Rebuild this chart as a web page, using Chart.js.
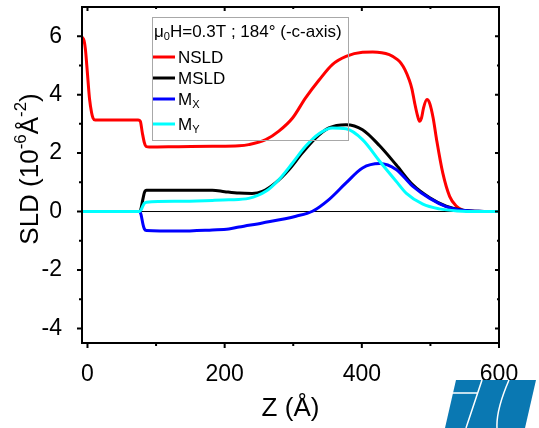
<!DOCTYPE html>
<html>
<head>
<meta charset="utf-8">
<script src="https://cdn.jsdelivr.net/npm/chart.js@4.4.1/dist/chart.umd.min.js"></script>
<style>
  html, body { margin: 0; padding: 0; background: #fff; }
  #wrap { width: 539px; height: 428px; position: relative; }
</style>
</head>
<body>
<div id="wrap"><canvas id="sld"></canvas></div>
<script>
// depth profile, Z in Angstrom, SLD in 1e-6 A^-2
const nsldZ = [-8, -5, -3, -1, 1, 3, 6, 8, 11, 40, 74, 77, 80, 83, 86, 90, 133, 182, 221, 235, 260, 279, 299, 318, 338, 357, 377, 401, 416, 440, 452, 457, 463, 469, 473, 477, 481, 484, 487, 490, 495, 499, 504, 509, 518, 528, 538, 548, 560, 580, 600];
const nsld  = [5.97, 5.85, 5.55, 5.0, 4.4, 3.85, 3.38, 3.2, 3.13, 3.13, 3.13, 3.09, 2.69, 2.35, 2.22, 2.21, 2.22, 2.23, 2.25, 2.29, 2.46, 2.75, 3.2, 3.89, 4.51, 5.03, 5.31, 5.45, 5.46, 5.37, 5.2, 5.08, 4.85, 4.51, 4.2, 3.72, 3.3, 3.09, 3.2, 3.55, 3.83, 3.7, 3.2, 2.46, 1.32, 0.52, 0.18, 0.04, 0.01, 0, 0];

const msldZ = [-8, 76, 78, 81, 83, 86, 133, 182, 200, 221, 240, 255, 274, 294, 313, 333, 352, 377, 401, 426, 450, 474, 499, 523, 547, 570, 600];
const msld  = [0, 0, 0.1, 0.45, 0.65, 0.73, 0.73, 0.73, 0.68, 0.63, 0.62, 0.69, 0.98, 1.44, 2.0, 2.52, 2.86, 2.97, 2.8, 2.25, 1.6, 0.92, 0.47, 0.18, 0.04, 0.01, 0];

const mxZ = [-8, 76, 78, 81, 83, 86, 133, 182, 206, 221, 255, 304, 328, 352, 377, 401, 426, 450, 474, 499, 523, 547, 570, 600];
const mx  = [0, 0, -0.1, -0.45, -0.6, -0.65, -0.67, -0.63, -0.6, -0.53, -0.39, -0.16, 0.01, 0.41, 0.98, 1.49, 1.64, 1.44, 0.87, 0.45, 0.17, 0.04, 0.01, 0];

const myZ = [-8, 76, 78, 81, 83, 86, 133, 182, 206, 235, 260, 279, 299, 318, 338, 357, 377, 401, 426, 452, 465, 489, 513, 540, 570, 600];
const my  = [0, 0, 0.05, 0.2, 0.28, 0.32, 0.35, 0.38, 0.4, 0.45, 0.69, 1.09, 1.66, 2.23, 2.67, 2.86, 2.83, 2.46, 1.72, 0.98, 0.62, 0.25, 0.09, 0.02, 0, 0];

const zTicks = [0, 200, 400, 600];
const zMinor = [100, 300, 500];
const sldTicks = [-4, -2, 0, 2, 4, 6];
const sldMinor = [-3, -1, 1, 3, 5];

const legendTitle = ["\u03BC", "0", "H=0.3T ; 184\u00B0 (-c-axis)"];
const seriesNames = [["NSLD", ""], ["MSLD", ""], ["M", "X"], ["M", "Y"]];
const seriesColors = ["#ff0000", "#000000", "#0000ff", "#00ffff"];

const FONT = "'Liberation Sans', Arial, sans-serif";

function pts(z, v) {
  return z.map((x, i) => ({ x: x, y: v[i] }));
}

// text runs: [string, "n" | "sub" | "sup"]
function drawRuns(ctx, runs, x, y, size) {
  let cx = x;
  runs.forEach(([t, kind]) => {
    let s = size, dy = 0;
    if (kind === "sub") { s = size * 0.65; dy = size * 0.3; }
    if (kind === "sup") { s = size * 0.65; dy = -size * 0.38; }
    ctx.font = s + "px " + FONT;
    ctx.fillText(t, cx, y + dy);
    cx += ctx.measureText(t).width;
  });
  return cx - x;
}
function runsWidth(ctx, runs, size) {
  let w = 0;
  runs.forEach(([t, kind]) => {
    const s = kind === "n" ? size : size * 0.65;
    ctx.font = s + "px " + FONT;
    w += ctx.measureText(t).width;
  });
  return w;
}

const decor = {
  id: "decor",
  beforeDatasetsDraw(chart) {
    const { ctx, chartArea: a, scales: { y } } = chart;
    const y0 = y.getPixelForValue(0);
    ctx.save();
    ctx.strokeStyle = "#000";
    ctx.lineWidth = 1;
    ctx.beginPath();
    ctx.moveTo(a.left, y0);
    ctx.lineTo(a.right, y0);
    ctx.stroke();
    ctx.restore();
  },
  afterDraw(chart) {
    const { ctx, chartArea: a, scales: { x, y } } = chart;
    ctx.save();

    // frame
    ctx.strokeStyle = "#000";
    ctx.lineWidth = 2;
    ctx.strokeRect(a.left, a.top, a.right - a.left, a.bottom - a.top);

    // ticks: outward on left/bottom, inward on top/right
    ctx.beginPath();
    const tx = (v, len) => {
      const p = x.getPixelForValue(v);
      ctx.moveTo(p, a.bottom); ctx.lineTo(p, a.bottom + len);
      ctx.moveTo(p, a.top); ctx.lineTo(p, a.top + len - 1);
    };
    const ty = (v, len) => {
      const p = y.getPixelForValue(v);
      ctx.moveTo(a.left, p); ctx.lineTo(a.left - len, p);
      ctx.moveTo(a.right, p); ctx.lineTo(a.right - len + 1, p);
    };
    zTicks.forEach(v => tx(v, 5));
    zMinor.forEach(v => tx(v, 3));
    sldTicks.forEach(v => ty(v, 5));
    sldMinor.forEach(v => ty(v, 3));
    ctx.stroke();

    // axis titles
    ctx.fillStyle = "#000";
    ctx.textBaseline = "middle";
    ctx.textAlign = "left";
    const xt = [["Z (\u00C5)", "n"]];
    const xw = runsWidth(ctx, xt, 26);
    drawRuns(ctx, xt, (a.left + a.right) / 2 - xw / 2, 409, 26);

    const yt = [["SLD (10", "n"], ["-6", "sup"], ["\u00C5", "n"], ["-2", "sup"], [")", "n"]];
    const yw = runsWidth(ctx, yt, 26);
    ctx.save();
    ctx.translate(31, (a.top + a.bottom) / 2 - 6);
    ctx.rotate(-Math.PI / 2);
    drawRuns(ctx, yt, -yw / 2, 0, 26);
    ctx.restore();

    // legend box
    const lx = 152, ly = 17, lw = 196, lh = 123;
    ctx.strokeStyle = "#a8a8a8";
    ctx.lineWidth = 1;
    ctx.strokeRect(lx + 0.5, ly + 0.5, lw, lh);
    ctx.fillStyle = "#000";
    drawRuns(ctx, [[legendTitle[0], "n"], [legendTitle[1], "sub"], [legendTitle[2], "n"]], lx + 2, ly + 15, 17);
    const rows = [57, 78, 99, 124];
    seriesNames.forEach((nm, i) => {
      const ry = rows[i];
      ctx.strokeStyle = seriesColors[i];
      ctx.lineWidth = 3;
      ctx.beginPath();
      ctx.moveTo(lx + 1, ry);
      ctx.lineTo(lx + 23, ry);
      ctx.stroke();
      ctx.fillStyle = "#000";
      drawRuns(ctx, [[nm[0], "n"], [nm[1], "sub"]], lx + 26, ry + 1, 17);
    });

    // institute logo, bottom right
    ctx.fillStyle = "#0a78b2";
    ctx.beginPath();
    ctx.moveTo(456, 380); ctx.lineTo(536, 380);
    ctx.lineTo(525, 428); ctx.lineTo(445, 428);
    ctx.closePath();
    ctx.fill();
    ctx.strokeStyle = "#fff";
    ctx.lineWidth = 1.5;
    ctx.beginPath();
    ctx.moveTo(447, 393); ctx.lineTo(478, 393);
    ctx.moveTo(482, 380); ctx.lineTo(466, 428);
    ctx.moveTo(509, 380); ctx.quadraticCurveTo(496, 410, 497, 428);
    ctx.stroke();

    ctx.restore();
  }
};

const ctx = document.getElementById("sld").getContext("2d");

const series = [
  { label: "NSLD", z: nsldZ, v: nsld, order: 4 },
  { label: "MSLD", z: msldZ, v: msld, order: 3 },
  { label: "Mx", z: mxZ, v: mx, order: 2 },
  { label: "My", z: myZ, v: my, order: 1 }
];

new Chart(ctx, {
  type: "line",
  data: {
    datasets: series.map((s, i) => ({
      label: s.label,
      data: pts(s.z, s.v),
      borderColor: seriesColors[i],
      borderWidth: 3,
      pointRadius: 0,
      fill: false,
      cubicInterpolationMode: "monotone",
      order: s.order
    }))
  },
  options: {
    responsive: true,
    maintainAspectRatio: false,
    animation: false,
    devicePixelRatio: 1,
    layout: { padding: { left: 0, right: 40, top: 7, bottom: 0 } },
    plugins: {
      legend: { display: false },
      tooltip: { enabled: false }
    },
    scales: {
      x: {
        type: "linear",
        min: -8,
        max: 600,
        grid: { display: false },
        border: { display: false },
        afterBuildTicks: s => { s.ticks = zTicks.map(v => ({ value: v })); },
        afterFit: s => { s.height = 85; s.paddingLeft = 0; s.paddingRight = 0; },
        ticks: {
          color: "#000",
          padding: 10,
          maxRotation: 0,
          font: { family: FONT, size: 23 }
        }
      },
      y: {
        type: "linear",
        min: -4.5,
        max: 7,
        grid: { display: false },
        border: { display: false },
        afterBuildTicks: s => { s.ticks = sldTicks.map(v => ({ value: v })); },
        afterFit: s => { s.width = 82; s.paddingTop = 0; s.paddingBottom = 0; },
        ticks: {
          color: "#000",
          padding: 12,
          font: { family: FONT, size: 23 }
        }
      }
    }
  },
  plugins: [decor]
});
</script>
</body>
</html>
